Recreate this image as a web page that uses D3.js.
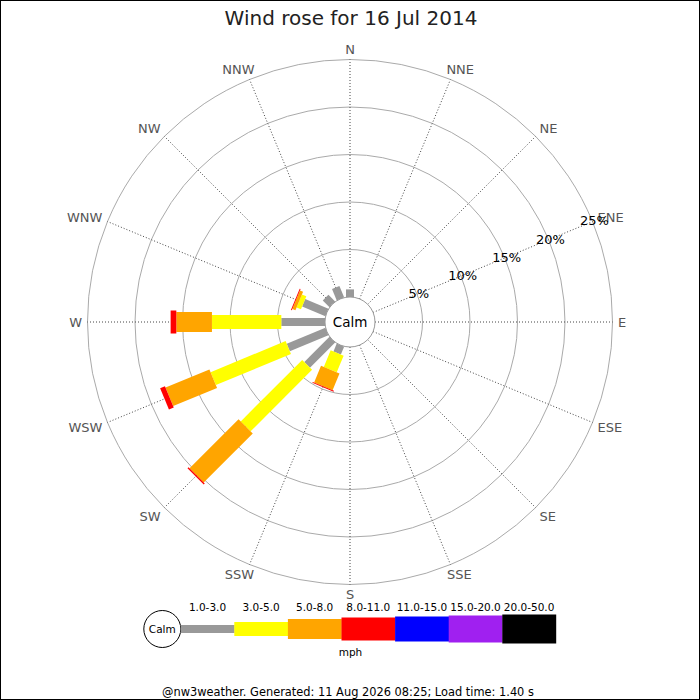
<!DOCTYPE html>
<html>
<head>
<meta charset="utf-8">
<script src="https://cdn.jsdelivr.net/npm/d3@7"></script>
<style>
html,body{margin:0;padding:0;background:#fff;}
svg{display:block;font-family:"DejaVu Sans",sans-serif;}
</style>
</head>
<body>
<svg id="chart" width="700" height="700"></svg>
<script>
// ---- data ----
const title = "Wind rose for 16 Jul 2014";
const directions = ["N","NNE","NE","ENE","E","ESE","SE","SSE","S","SSW","SW","WSW","W","WNW","NW","NNW"];
const speedBins = ["1.0-3.0","3.0-5.0","5.0-8.0","8.0-11.0","11.0-15.0","15.0-20.0","20.0-50.0"];
// percentages per direction for each speed bin
const bin1 = [0.8,0,0,0,0,0,0,0,0,0.9,3.75,4.4,4.6,2.65,1.0,1.3];
const bin2 = [0,0,0,0,0,0,0,0,0,1.9,9.15,8.55,7.3,0.5,0,0];
const bin3 = [0,0,0,0,0,0,0,0,0,1.9,7.3,5.0,3.75,0.35,0,0];
const bin4 = [0,0,0,0,0,0,0,0,0,0.1,0.15,0.55,0.6,0.1,0,0];
const bin5 = [0,0,0,0,0,0,0,0,0,0,0,0,0,0,0,0];
const bin6 = [0,0,0,0,0,0,0,0,0,0,0,0,0,0,0,0];
const bin7 = [0,0,0,0,0,0,0,0,0,0,0,0,0,0,0,0];
const ringTicks = [5,10,15,20,25];
const unitLabel = "mph";
const footer = "@nw3weather. Generated: 11 Aug 2026 08:25; Load time: 1.40 s";

// ---- styles ----
const binColors = ["#999999","#ffff00","#ffa500","#ff0000","#0000ff","#a020f0","#000000"];
const binWidths = [8,14,20,23,25,27,29];

const svg = d3.select("#chart");
const cx = 350, cy = 322;
const calmR = 25;
const r = d3.scaleLinear().domain([0,25]).range([calmR, 262.5]);
const bins = [bin1,bin2,bin3,bin4,bin5,bin6,bin7];

svg.append("rect").attr("x",0.5).attr("y",0.5).attr("width",699).attr("height",699)
  .attr("fill","#fff").attr("stroke","#000").attr("stroke-width",1);

svg.append("text").attr("x",351).attr("y",24.5).attr("text-anchor","middle")
  .attr("font-size",20).attr("fill","#222").text(title);

const g = svg.append("g").attr("transform",`translate(${cx},${cy})`);

// rings
g.selectAll("circle.ring").data(ringTicks).join("circle").attr("class","ring")
  .attr("r",d=>r(d)).attr("fill","none").attr("stroke","#aaaaaa").attr("stroke-width",1);

// spokes
const ang = i => i*22.5;
g.selectAll("line.spoke").data(directions).join("line").attr("class","spoke")
  .attr("x1",(d,i)=>calmR*Math.sin(ang(i)*Math.PI/180))
  .attr("y1",(d,i)=>-calmR*Math.cos(ang(i)*Math.PI/180))
  .attr("x2",(d,i)=>r(25)*Math.sin(ang(i)*Math.PI/180))
  .attr("y2",(d,i)=>-r(25)*Math.cos(ang(i)*Math.PI/180))
  .attr("stroke","#444").attr("stroke-width",1).attr("stroke-dasharray","1,2");

// bars
directions.forEach((d,i)=>{
  const bg = g.append("g").attr("transform",`rotate(${ang(i)})`);
  let cum = 0;
  bins.forEach((b,k)=>{
    const v = b[i];
    if(v>0){
      const r0 = r(cum), r1 = r(cum+v);
      bg.append("rect").attr("x",-binWidths[k]/2).attr("y",-r1)
        .attr("width",binWidths[k]).attr("height",r1-r0).attr("fill",binColors[k]);
    }
    cum += v;
  });
});

// calm circle
g.append("circle").attr("r",calmR).attr("fill","#fff").attr("stroke","#999").attr("stroke-width",1);
g.append("text").attr("x",0).attr("y",5).attr("text-anchor","middle").attr("font-size",13.5)
  .attr("fill","#000").text("Calm");

// direction labels
const capH = 13*0.729;
directions.forEach((d,i)=>{
  const a = ang(i)*Math.PI/180;
  const s = Math.sin(a), c = Math.cos(a);
  const px = 268*s, py = -268*c;
  const t = g.append("text").attr("font-size",13).attr("fill","#555").attr("text-anchor","middle").text(d);
  const w = t.node().getComputedTextLength();
  const f = Math.sign(s)*Math.min(1,1.45*Math.abs(s));
  const gg = Math.sign(c)*Math.min(1,1.3*Math.abs(c));
  const ccx = px + w/2*f, ccy = py - capH/2*gg;
  t.attr("x",ccx).attr("y",ccy+capH/2);
});

// percentage labels along ENE
const la = 67.5*Math.PI/180;
g.selectAll("text.pct").data(ringTicks).join("text").attr("class","pct")
  .attr("x",d=>(r(d)+2)*Math.sin(la)).attr("y",d=>-(r(d)+2)*Math.cos(la)+4.7)
  .attr("text-anchor","middle").attr("font-size",13).attr("fill","#000").text(d=>d+"%");

// legend
const lx0 = 180.7, segW = 53.6, ly = 629;
svg.append("circle").attr("cx",162.3).attr("cy",ly).attr("r",18.5).attr("fill","#fff").attr("stroke","#000");
svg.append("text").attr("x",162.3).attr("y",ly+4).attr("text-anchor","middle").attr("font-size",10.5).text("Calm");
speedBins.forEach((lab,k)=>{
  svg.append("rect").attr("x",lx0+k*segW).attr("y",ly-binWidths[k]/2).attr("width",segW+0.3)
    .attr("height",binWidths[k]).attr("fill",binColors[k]);
  svg.append("text").attr("x",lx0+k*segW+segW/2).attr("y",611).attr("text-anchor","middle")
    .attr("font-size",10.5).attr("fill","#000").text(lab);
});
svg.append("text").attr("x",350.5).attr("y",655.5).attr("text-anchor","middle").attr("font-size",10.5).text(unitLabel);
svg.append("text").attr("x",348).attr("y",695.5).attr("text-anchor","middle").attr("font-size",11.4).text(footer);
</script>
</body>
</html>
